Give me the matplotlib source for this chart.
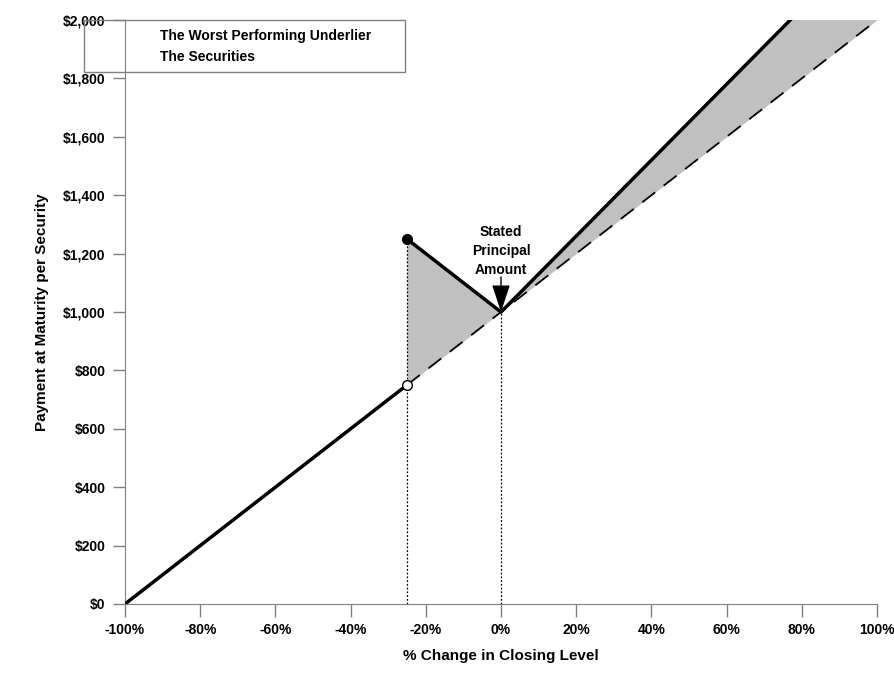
import matplotlib
matplotlib.use("Agg")
import matplotlib.pyplot as plt
from matplotlib.patches import Rectangle

plt.rcParams['font.family'] = ['Liberation Sans Narrow', 'Liberation Sans', 'DejaVu Sans']
plt.rcParams['font.weight'] = 'bold'
plt.rcParams['axes.labelweight'] = 'bold'

# % change in closing level of the worst performing underlier
underlier_x = [-100, 100]
underlier_y = [0, 2000]

# payment on the securities
sec_low_x = [-100, -25]
sec_low_y = [0, 750]
sec_up_x = [-25, 0, 100]
sec_up_y = [1250, 1000, 2300]

barrier = -25
x_ticks = [-100, -80, -60, -40, -20, 0, 20, 40, 60, 80, 100]
y_ticks = [0, 200, 400, 600, 800, 1000, 1200, 1400, 1600, 1800, 2000]

fig = plt.figure(figsize=(8.94, 6.74), dpi=100)
ax = fig.add_axes([125/894, 70/674, 752/894, 584/674])

def under_at(x):
    return underlier_y[0] + (x - underlier_x[0]) * (underlier_y[1] - underlier_y[0]) / (underlier_x[1] - underlier_x[0])

# shaded area between securities and underlier
ax.fill_between(sec_up_x, sec_up_y, [under_at(v) for v in sec_up_x],
                color='#c0c0c0', lw=0, zorder=1)

# underlier dashed line (above barrier)
ax.plot([barrier, underlier_x[1]], [under_at(barrier), underlier_y[1]],
        color='black', lw=1.3, dashes=(9, 6), zorder=2)

# securities
ax.plot(sec_low_x, sec_low_y, color='black', lw=2.5, zorder=3, solid_capstyle='round')
ax.plot(sec_up_x, sec_up_y, color='black', lw=2.5, zorder=3, solid_capstyle='round')

# dotted reference lines
ax.plot([barrier, barrier], [0, sec_up_y[0]], color='black', lw=0.9, ls=(0, (1.5, 1.5)), zorder=2)
ax.plot([0, 0], [0, 1000], color='black', lw=0.9, ls=(0, (1.5, 1.5)), zorder=2)

ax.plot([barrier], [sec_up_y[0]], 'o', color='black', ms=7, zorder=4, clip_on=False)
ax.plot([barrier], [sec_low_y[1]], 'o', mfc='white', mec='black', mew=1, ms=7, zorder=4)

ax.annotate('', xy=(0, 1000), xytext=(0, 1120),
            arrowprops=dict(arrowstyle='-|>,head_length=0.85,head_width=0.28',
                            color='black', lw=1, mutation_scale=20, shrinkA=0, shrinkB=0))
ax.text(0, 1210, 'Stated\nPrincipal\nAmount', ha='center', va='center',
        fontsize=10, linespacing=1.45)

ax.set_xlim(-100, 100)
ax.set_ylim(0, 2000)
ax.set_xticks(x_ticks)
ax.set_xticklabels([f'{v}%' for v in x_ticks])
ax.set_yticks(y_ticks)
ax.set_yticklabels([f'${v:,}' for v in y_ticks])
for s in ['top', 'right']:
    ax.spines[s].set_visible(False)
for s in ['left', 'bottom']:
    ax.spines[s].set_color('#808080')
ax.tick_params(color='#808080', length=9, width=1, labelsize=10, pad=5)
ax.tick_params(axis='x', pad=5)
ax.set_xlabel('% Change in Closing Level', fontsize=11, labelpad=8)
ax.set_ylabel('Payment at Maturity per Security', fontsize=11, labelpad=10)

# legend box (handles not visible in the original)
fig.add_artist(Rectangle((84/894, 1 - 72/674), 321/894, 52/674, transform=fig.transFigure,
                         fill=False, edgecolor='#808080', lw=1, zorder=5))
fig.text(160/894, 1 - 36/674, 'The Worst Performing Underlier', fontsize=10, va='center')
fig.text(160/894, 1 - 57/674, 'The Securities', fontsize=10, va='center')

fig.savefig('out.png', dpi=100)
